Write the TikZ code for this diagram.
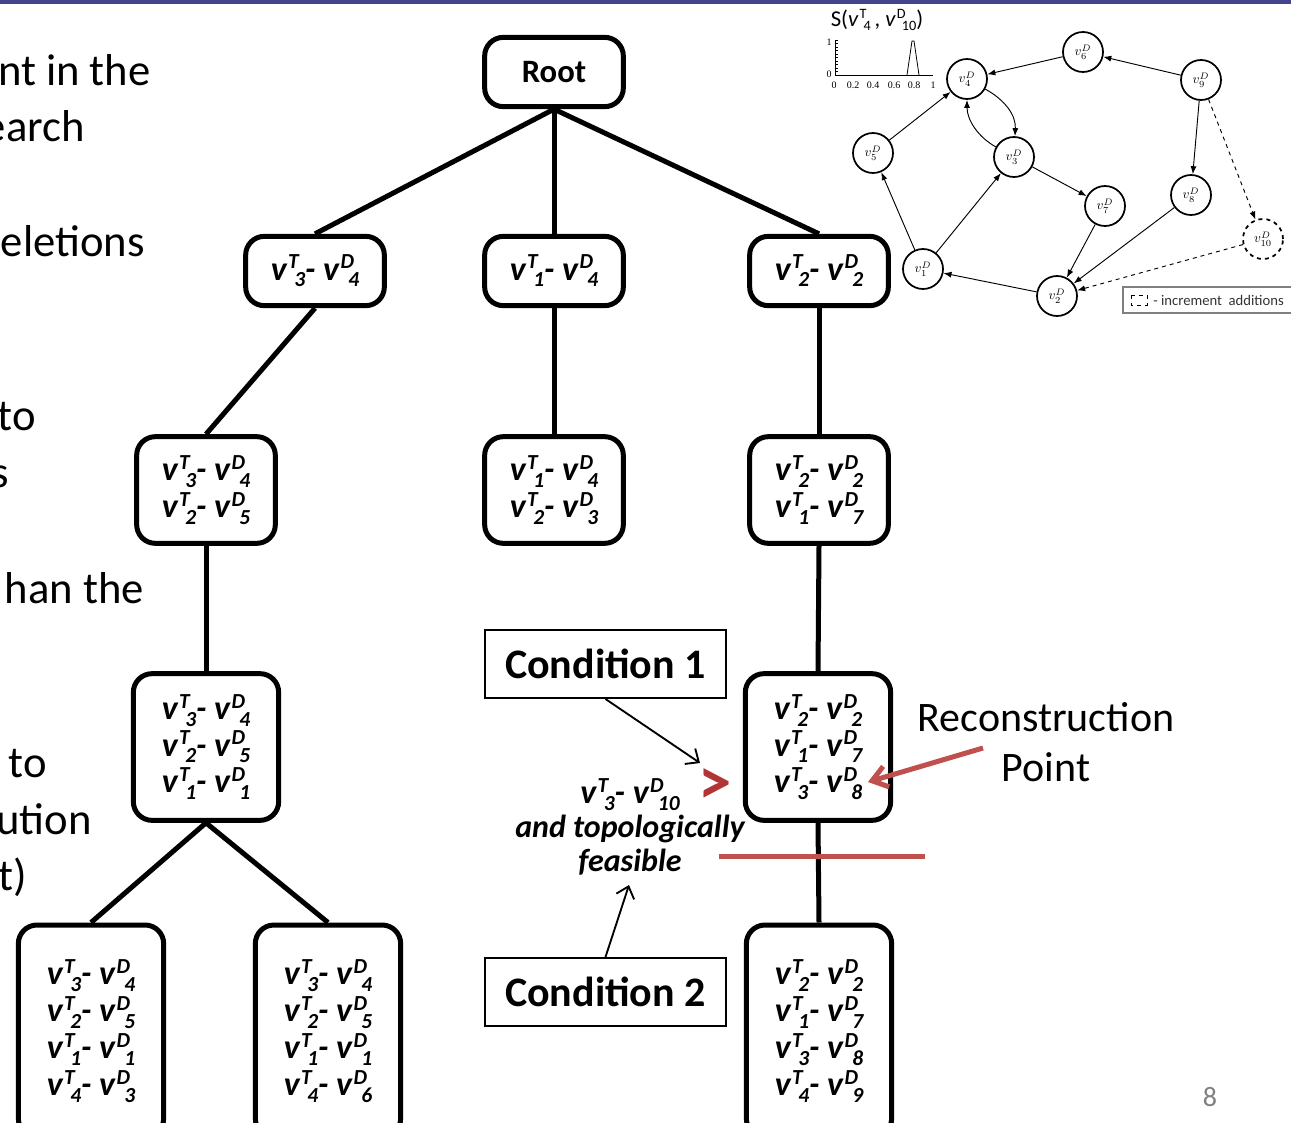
\documentclass[tikz,border=0pt]{standalone}
\usepackage{fontspec}
\setmainfont{Carlito}
\newfontfamily\tnr{Liberation Serif}
\usepackage{graphicx}
\usetikzlibrary{arrows.meta}
\definecolor{barblue}{RGB}{68,68,140}
\definecolor{redline}{RGB}{192,80,77}
\definecolor{redgt}{RGB}{178,52,52}
\newsavebox\SupB
\newsavebox\SubB
\newcommand\SupSub[2]{\sbox\SupB{\scalebox{0.63}{#1}}\sbox\SubB{\scalebox{0.63}{#2}}%
\kern0.04em\raisebox{0.33em}{\usebox\SupB}\kern-0.42\wd\SupB\raisebox{-0.2em}{\usebox\SubB}}
\newcommand\vp[4]{v\SupSub{#1}{#2}- v\SupSub{#3}{#4}}
\tikzset{
  tnode/.style={draw, line width=3.75pt, rounded corners=14pt, align=center, inner sep=0pt,
    font=\fontsize{25.5}{27.6}\selectfont\bfseries\itshape},
  wa/.style={minimum width=104pt, minimum height=52pt},
  wb/.style={minimum width=104pt, minimum height=80pt},
  wc/.style={minimum width=109pt, minimum height=110pt},
  wd/.style={minimum width=109pt, minimum height=159pt},
  tedge/.style={line width=3.75pt},
  lt/.style={anchor=base east, inner sep=0pt, font=\fontsize{33.5}{40}\selectfont},
  cbox/.style={draw, line width=1.5pt, minimum width=181pt, minimum height=51pt, inner sep=0pt,
    font=\fontsize{31.5}{36}\selectfont\bfseries},
  carrow/.style={line width=1.4pt, -{Straight Barb[length=8pt,width=14pt]}},
  gn/.style={circle, draw, line width=1.3pt, minimum size=30pt, inner sep=0pt, font=\fontsize{10}{10}\selectfont},
  ga/.style={line width=0.7pt, -{Latex[length=6pt,width=4.5pt]}},
  tick/.style={inner sep=0pt, font=\fontsize{7.5}{8}\selectfont\tnr}
}
\begin{document}
\begin{tikzpicture}[x=0.75pt,y=-0.75pt]
\useasboundingbox (0,0) rectangle (1291,1123);
\clip (0,0) rectangle (1291,1123);
\fill[barblue] (0,0) rectangle (1291,4);

% left cut-off text
\node[lt] (l1) at (151,86) {nt in the};
\node[lt] (l2) at (85,142) {earch};
\node[lt] (l3) at (145,257) {eletions};
\node[lt] (l4) at (36,430) {to};
\node[lt] (l5) at (9,487) {s};
\node[lt] (l6) at (144,603) {han the};
\node[lt] (l7) at (47,777) {to};
\node[lt] (l8) at (92,834) {ution};
\node[lt] (l9) at (27,890) {t)};

% tree
\node[tnode, wa] (root) at (554,72) {\fontsize{24.5}{26}\selectfont\upshape Root};
\node[tnode, wa] (a1) at (315,271) {\vp T3D4};
\node[tnode, wa] (b1) at (554,271) {\vp T1D4};
\node[tnode, wa] (c1) at (819,271) {\vp T2D2};
\node[tnode, wb] (a2) at (206,490) {\vp T3D4\\\vp T2D5};
\node[tnode, wb] (b2) at (554,490) {\vp T1D4\\\vp T2D3};
\node[tnode, wb] (c2) at (819,490) {\vp T2D2\\\vp T1D7};
\node[tnode, wc] (a3) at (206,747) {\vp T3D4\\\vp T2D5\\\vp T1D1};
\node[tnode, wc] (c3) at (818,747) {\vp T2D2\\\vp T1D7\\\vp T3D8};
\node[tnode, wd] (d1) at (91,1031) {\vp T3D4\\\vp T2D5\\\vp T1D1\\\vp T4D3};
\node[tnode, wd] (d2) at (328,1031) {\vp T3D4\\\vp T2D5\\\vp T1D1\\\vp T4D6};
\node[tnode, wd] (c4) at (819,1031) {\vp T2D2\\\vp T1D7\\\vp T3D8\\\vp T4D9};

\draw[tedge] (root.south) -- (a1.north);
\draw[tedge] (root.south) -- (b1.north);
\draw[tedge] (root.south) -- (c1.north);
\draw[tedge] (a1.south) -- (a2.north);
\draw[tedge] (a2.south) -- (a3.north);
\draw[tedge] (a3.south) -- (d1.north);
\draw[tedge] (a3.south) -- (d2.north);
\draw[tedge] (b1.south) -- (b2.north);
\draw[tedge] (c1.south) -- (c2.north);
\draw[tedge] (c2.south) -- (c3.north);
\draw[tedge] (c3.south) -- (c4.north);

% conditions
\node[cbox] (k1) at (605.5,664) {Condition 1};
\node[cbox] (k2) at (605.5,992) {Condition 2};
\node[align=center, inner sep=0pt, font=\fontsize{24}{25.5}\selectfont\bfseries\itshape] (feas) at (630,827)
  {{\fontsize{25.5}{25.5}\selectfont\vp T3D{10}}\\and topologically\\feasible};
\coordinate (k1tip) at (700,763);
\coordinate (k2tip) at (629,885);
\draw[carrow] (k1.south) -- (k1tip);
\draw[carrow] (k2.north) -- (k2tip);
\node[inner sep=0pt, text=redgt, font=\fontsize{50}{50}\selectfont\bfseries] (gt) at (715,787) {>};
\coordinate (rl1) at (719,856);
\coordinate (rl2) at (925,856);
\draw[redline, line width=3.75pt] (rl1) -- (rl2);

% reconstruction point
\node[inner sep=0pt, font=\fontsize{31.5}{36}\selectfont] (recon) at (1046,717) {Reconstruction};
\node[inner sep=0pt, font=\fontsize{31.5}{36}\selectfont] (point) at (1046,767) {Point};
\coordinate (ra1) at (983,748);
\coordinate (ra2) at (868,782);
\draw[redline, line width=3.75pt, -{Straight Barb[length=11pt,width=16pt]}] (ra1) -- (ra2);

% graph
\node[gn] (v6) at (1083,52) {$v_{6}^{D}$};
\node[gn] (v4) at (967,79) {$v_{4}^{D}$};
\node[gn] (v9) at (1201,80) {$v_{9}^{D}$};
\node[gn] (v5) at (873,153) {$v_{5}^{D}$};
\node[gn] (v3) at (1014,157) {$v_{3}^{D}$};
\node[gn] (v7) at (1105,206) {$v_{7}^{D}$};
\node[gn] (v8) at (1191,195) {$v_{8}^{D}$};
\node[gn, dashed] (v10) at (1263,239) {$v_{10}^{D}$};
\node[gn] (v1) at (923,269) {$v_{1}^{D}$};
\node[gn] (v2) at (1057,296) {$v_{2}^{D}$};
\draw[ga] (v6) -- (v4);
\draw[ga] (v9) -- (v6);
\draw[ga] (v5) -- (v4);
\draw[ga] (v3) -- (v7);
\draw[ga] (v1) -- (v5);
\draw[ga] (v1) -- (v3);
\draw[ga] (v7) -- (v2);
\draw[ga] (v8) -- (v2);
\draw[ga] (v2) -- (v1);
\draw[ga] (v9) -- (v8);
\draw[ga, dashed] (v9) -- (v10);
\draw[ga, dashed] (v10) -- (v2);
\draw[ga] (v4) .. controls (1005,100) and (1016,115) .. (v3);
\draw[ga] (v3) .. controls (978,137) and (967,120) .. (v4);

% legend
\draw[gray, line width=0.8pt] (1123,287) rectangle (1300,313);
\draw[line width=0.5pt, dashed] (1131,295) rectangle (1147,305);
\node[anchor=west, inner sep=0pt, text=black!80, font=\fontsize{11}{11}\selectfont] (leg) at (1153,300) {- increment\ \ additions};

% small chart
\node[inner sep=0pt, font=\fontsize{17}{17}\selectfont] (stitle) at (877,20) {S(\textit{v}\SupSub{T}{4}\,, \textit{v}\SupSub{D}{10})};
\draw[line width=0.6pt] (835,40) -- (835,75) -- (933,75);
\foreach \yy in {40,43.5,...,75} \draw[line width=0.4pt] (835,\yy) -- (837.5,\yy);
\draw[line width=0.6pt] (907,75) -- (912,41) -- (914,41) -- (919,75);
\node[tick] (ty1) at (829,42) {1};
\node[tick] (ty0) at (829,74) {0};
\node[tick] (tx0) at (834,85) {0};
\node[tick] (tx2) at (853,85) {0.2};
\node[tick] (tx4) at (873,85) {0.4};
\node[tick] (tx6) at (894,85) {0.6};
\node[tick] (tx8) at (914,85) {0.8};
\node[tick] (tx10) at (933,85) {1};

% page number
\node[inner sep=0pt, text=gray, font=\fontsize{21}{21}\selectfont] (pg) at (1210,1097) {8};
\end{tikzpicture}
\end{document}
